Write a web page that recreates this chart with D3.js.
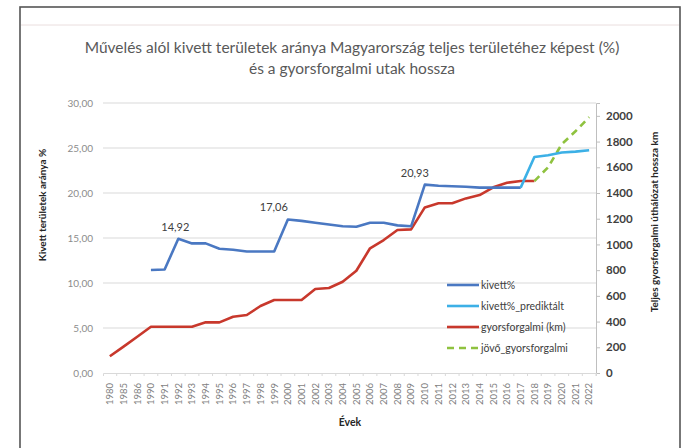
<!DOCTYPE html>
<html><head><meta charset="utf-8">
<script src="https://cdn.jsdelivr.net/npm/d3@7/dist/d3.min.js"></script>
<style>body{margin:0;background:#fff}svg{display:block}text{font-family:Lato,"Open Sans",sans-serif}</style>
</head><body><svg id="c" width="696" height="448"></svg>
<script>
const years = ["1980","1985","1986","1990","1991","1992","1993","1994","1995","1996","1997","1998","1999","2000","2001","2002","2003","2004","2005","2006","2007","2008","2009","2010","2011","2012","2013","2014","2015","2016","2017","2018","2019","2020","2021","2022"];
const kivett = [null,null,null,11.45,11.5,14.92,14.4,14.4,13.8,13.7,13.5,13.5,13.5,17.06,16.9,16.7,16.5,16.3,16.25,16.7,16.7,16.4,16.3,20.93,20.8,20.75,20.7,20.6,20.6,20.6,20.6,null,null,null,null,null];
const kivettPred = [null,null,null,null,null,null,null,null,null,null,null,null,null,null,null,null,null,null,null,null,null,null,null,null,null,null,null,null,null,null,20.6,24.0,24.2,24.5,24.6,24.75];
const gyors = [130,205,282,360,360,360,360,394,394,438,451,521,568,568,568,653,661,710,795,970,1034,1112,1117,1288,1320,1320,1358,1384,1444,1480,1493,1493,null,null,null,null];
const jovo = [null,null,null,null,null,null,null,null,null,null,null,null,null,null,null,null,null,null,null,null,null,null,null,null,null,null,null,null,null,null,null,1493,1600,1780,1880,1990];
const leftTicks = [0,5,10,15,20,25,30];
const rightTicks = [0,200,400,600,800,1000,1200,1400,1600,1800,2000];
const labelIdx = [5,13,23];
const titleLines = ["Művelés alól kivett területek aránya Magyarország teljes területéhez képest (%)","és a gyorsforgalmi utak hossza"];
const legendNames = ["kivett%","kivett%_prediktált","gyorsforgalmi (km)","jövő_gyorsforgalmi"];

const svg = d3.select("#c");
const L=103, R=596, T=103, B=373;
const x = d3.scaleBand().domain(years).range([L,R]).padding(0);
const yl = d3.scaleLinear().domain([0,30]).range([B,T]);
const yr = d3.scaleLinear().domain([0,2100]).range([B,T]);
const cx = i => x(years[i]) + x.bandwidth()/2;

// frame
svg.append("rect").attr("x",20).attr("y",7).attr("width",660).attr("height",460)
  .attr("fill","none").attr("stroke","#555").attr("stroke-width",1.6);
svg.append("line").attr("x1",21).attr("x2",679).attr("y1",25).attr("y2",25).attr("stroke","#eadede").attr("stroke-width",1);

// title
svg.selectAll(".tt").data(titleLines).enter().append("text")
  .attr("x",352).attr("y",(d,i)=>53+i*21).attr("text-anchor","middle")
  .attr("font-size",15.5).attr("fill","#595959").text(d=>d);

// gridlines
svg.append("g").selectAll("line").data(leftTicks.slice(1)).enter().append("line")
  .attr("x1",L).attr("x2",R).attr("y1",d=>yl(d)).attr("y2",d=>yl(d))
  .attr("stroke","#d9d9d9").attr("stroke-width",1);

// left axis
const gl = svg.append("g").attr("transform",`translate(${L},0)`)
  .call(d3.axisLeft(yl).tickValues(leftTicks).tickSize(0).tickPadding(10).tickFormat(d=>d3.format(".2f")(d).replace(".",",")));
gl.select(".domain").remove();
gl.selectAll("text").attr("font-size",10).attr("fill","#8c8c8c").attr("font-family","Lato");

// right axis
const gr = svg.append("g").attr("transform",`translate(${R},0)`)
  .call(d3.axisRight(yr).tickValues(rightTicks).tickSize(4).tickPadding(6).tickFormat(d3.format("d")));
gr.select(".domain").attr("stroke","#bfbfbf");
gr.selectAll(".tick line").attr("stroke","#bfbfbf");
gr.selectAll("text").attr("font-size",11.5).attr("font-weight","bold").attr("fill","#404040").attr("font-family","Lato");

// x axis
const gx = svg.append("g").attr("transform",`translate(0,${B})`)
  .call(d3.axisBottom(x).tickSize(3).tickPadding(4));
gx.select(".domain").attr("stroke","#d9d9d9");
gx.selectAll(".tick line").attr("stroke","#d9d9d9").attr("transform",`translate(${x.bandwidth()/2},0)`);
gx.selectAll("text").attr("font-size",9.5).attr("fill","#7f7f7f").attr("font-family","Lato")
  .attr("transform","rotate(-90)").attr("text-anchor","end").attr("x",-10).attr("y",0).attr("dy","0.35em").attr("dx",0);

// axis titles
svg.append("text").attr("transform","translate(46,205) rotate(-90)").attr("text-anchor","middle")
  .attr("font-size",10).attr("font-weight","bold").attr("fill","#262626").text("Kivett területek aránya %");
svg.append("text").attr("transform","translate(658,222) rotate(-90)").attr("text-anchor","middle")
  .attr("font-size",10).attr("font-weight","bold").attr("fill","#262626").text("Teljes gyorsforgalmi úthálózat hossza km");
svg.append("text").attr("x",350).attr("y",426).attr("text-anchor","middle")
  .attr("font-size",10.5).attr("font-weight","bold").attr("fill","#262626").text("Évek");

// lines
const colors = ["#4a78c2","#3cb0e6","#c8382c","#8fc23f"];
function drawLine(vals, yScale, color, dash){
  const line = d3.line().defined(d=>d!=null).x((d,i)=>cx(i)).y(d=>yScale(d));
  svg.append("path").datum(vals).attr("d",line).attr("fill","none")
    .attr("stroke",color).attr("stroke-width",2.6).attr("stroke-linejoin","round")
    .attr("stroke-dasharray",dash||null);
}
drawLine(gyors, yr, colors[2]);
drawLine(jovo, yr, colors[3], "7,5");
drawLine(kivett, yl, colors[0]);
drawLine(kivettPred, yl, colors[1]);

// data labels
const labelDx = [-3,-14,-10];
svg.selectAll(".dl").data(labelIdx).enter().append("text")
  .attr("x",(d,i)=>cx(d)+labelDx[i]).attr("y",d=>yl(kivett[d])-8)
  .attr("text-anchor","middle").attr("font-size",11).attr("fill","#404040")
  .text(d=>d3.format(".2f")(kivett[d]).replace(".",","));

// legend
const lg = svg.append("g").attr("transform","translate(447,285)");
legendNames.forEach((n,i)=>{
  const g = lg.append("g").attr("transform",`translate(0,${i*21})`);
  g.append("line").attr("x1",0).attr("x2",32).attr("y1",0).attr("y2",0)
    .attr("stroke",colors[i]).attr("stroke-width",2.6).attr("stroke-dasharray",i===3?"7,5":null);
  g.append("text").attr("x",34).attr("y",0).attr("dy","0.35em").attr("font-size",10.5)
    .attr("fill","#404040").text(n);
});
</script></body></html>
